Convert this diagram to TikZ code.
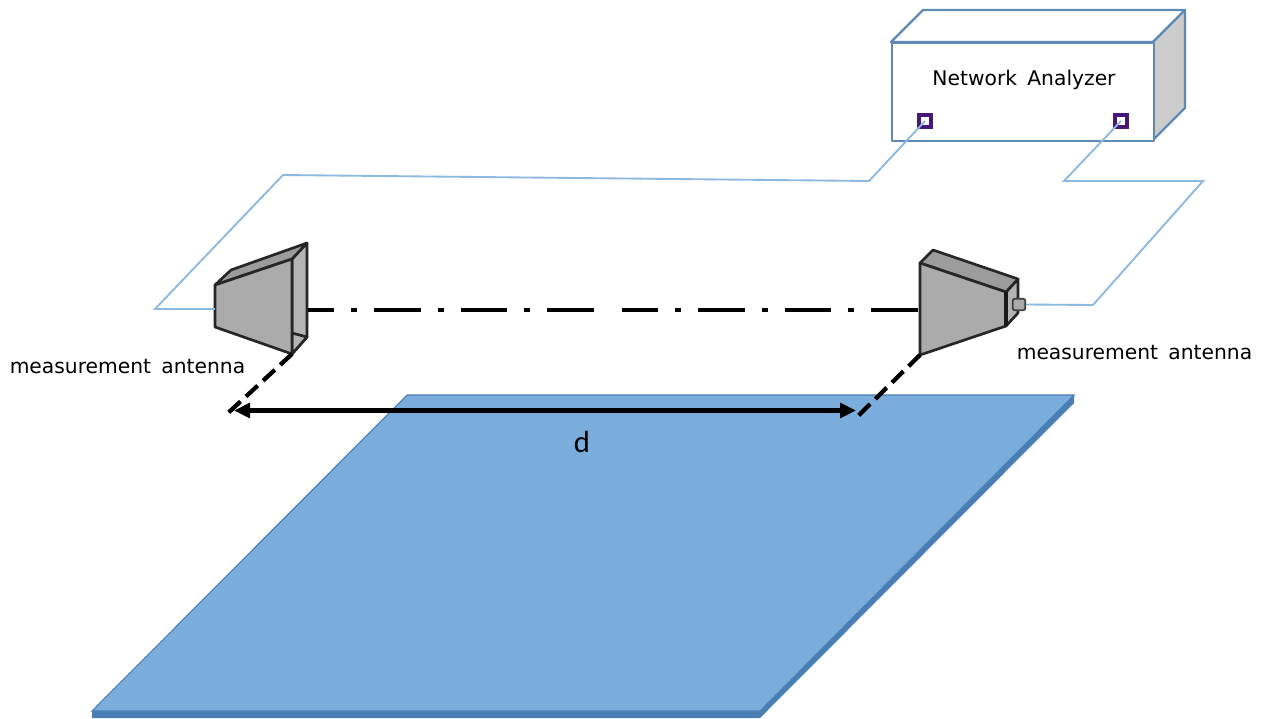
\documentclass[tikz,border=0pt]{standalone}
\usepackage{fontspec}
\setmainfont{DejaVu Sans}
\newfontfamily\lblfont[WordSpace=1.6]{DejaVu Sans}
\newfontfamily\dfont{Carlito}
\usetikzlibrary{arrows.meta}
\definecolor{wire}{HTML}{8DB8E0}
\definecolor{boxline}{HTML}{5F8AB3}
\definecolor{plate}{HTML}{7AADDC}
\definecolor{platedark}{HTML}{4A7EB4}
\definecolor{port}{HTML}{47187A}
\definecolor{horn}{HTML}{ABABAB}
\definecolor{hornside}{HTML}{B4B4B4}
\definecolor{horntop}{HTML}{9C9C9C}
\tikzset{
  wireline/.style={draw=wire,line width=1.4pt,line join=miter},
  hornface/.style={draw=black!85,line width=2pt,line join=round},
  caseline/.style={draw=boxline,line width=1.7pt,line join=round},
  portbox/.style={draw=port,fill=white,line width=2.9pt,minimum size=8.5pt,inner sep=0pt,outer sep=0pt},
  lbl/.style={inner sep=0pt,font=\lblfont\fontsize{15.2pt}{18pt}\selectfont},
  dimdash/.style={draw=black,line width=3.2pt,dash pattern=on 12pt off 5.5pt},
  axisline/.style={draw=black,line width=3.6pt,dash pattern=on 34.9pt off 12.75pt on 4.5pt off 12.75pt},
}
\begin{document}
\begin{tikzpicture}[x=0.75pt,y=-0.75pt]
\useasboundingbox (0,0) rectangle (1262,718);
% ground plate
\fill[platedark] (92,711) -- (760,711) -- (1074,395) -- (1074,403) -- (760,718) -- (92,718) -- cycle;
\fill[plate,draw=platedark,line width=.8pt] (407,395) -- (1074,395) -- (760,711) -- (92,711) -- cycle;
% network analyzer
\path[caseline,fill=white] (891,42) -- (923,10) -- (1185,10) -- (1153,42) -- cycle;
\path[caseline,fill=black!20] (1153,42) -- (1185,10) -- (1185,108) -- (1153,140) -- cycle;
\node[caseline,fill=white,minimum width=196.5pt,minimum height=73.5pt,inner sep=0pt,anchor=north west] (na) at (891,42) {};
\node[lbl] (natext) at (1024,80) {Network Analyzer};
\node[portbox] (p1) at (925,121) {};
\node[portbox] (p2) at (1121,121) {};
% antennas
\path[hornface,fill=hornside] (292,259) -- (307,243) -- (307,337) -- (292,354) -- cycle;
\path[hornface,fill=hornside] (292,333) -- (307,337) -- (292,354) -- cycle;
\path[hornface,fill=horntop] (215,285) -- (231,270) -- (307,243) -- (292,259) -- cycle;
\path[hornface,fill=horn] (215,285) -- (292,259) -- (292,354) -- (215,327) -- cycle;
\coordinate (lh) at (215,309);
\coordinate (lf) at (308,310);
\coordinate (lb) at (292,354);
\path[hornface,fill=hornside] (1006,292) -- (1018,279) -- (1018,313) -- (1006,326) -- cycle;
\path[hornface,fill=horntop] (920,263) -- (933,250) -- (1018,279) -- (1006,292) -- cycle;
\path[hornface,fill=horn] (920,263) -- (1006,292) -- (1006,326) -- (920,355) -- cycle;
\draw[line width=3pt,black!90] (1006,292) -- (1006,326);
\node[draw=black!75,fill=horn,line width=1.3pt,rounded corners=1.5pt,minimum width=9.5pt,minimum height=8.5pt,inner sep=0pt] (conn) at (1019,304.5) {};
\coordinate (rf) at (920,310);
\coordinate (rb) at (920,355);
% wires
\draw[wireline] (lh) -- (155,309) -- (283,175) -- (869,181) -- (p1.center);
\draw[wireline] (conn.east) -- (1093,305) -- (1203,181) -- (1064,181) -- (p2.center);
% axis
\coordinate (ma) at (594,310);
\coordinate (mb) at (621.5,310);
\draw[axisline,dash phase=15.4pt] (lf) -- (ma);
\draw[axisline,dash phase=7.5pt] (mb) -- (rf);
% distance
\coordinate (da) at (228,413);
\coordinate (db) at (858,416);
\draw[dimdash] (lb) -- (da);
\draw[dimdash] (rb) -- (db);
\coordinate (aa) at (234,410.5);
\coordinate (ab) at (856,410.5);
\draw[line width=3.3pt,{Triangle[length=12pt,width=11pt]}-{Triangle[length=12pt,width=11pt]}] (aa) -- (ab);
\node[inner sep=0pt,font=\dfont\fontsize{23pt}{26pt}\selectfont] (dl) at (582,442) {d};
\node[lbl] (la) at (127.5,367) {measurement antenna};
\node[lbl] (lc) at (1134.5,353) {measurement antenna};
\end{tikzpicture}
\end{document}
